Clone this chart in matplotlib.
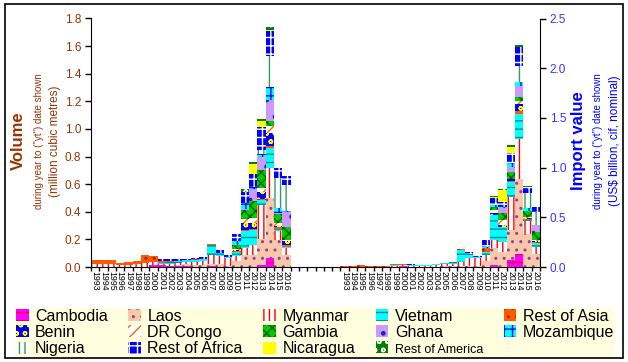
import matplotlib
matplotlib.use('Agg')
import matplotlib.pyplot as plt
from matplotlib.patches import Rectangle, Patch
from matplotlib.ticker import FormatStrFormatter, FixedLocator
import numpy as np

plt.rcParams['font.family'] = ['Liberation Sans', 'DejaVu Sans']
plt.rcParams['hatch.linewidth'] = 1.0

years = [str(y) for y in range(1993, 2017)]
series = ['Cambodia', 'Laos', 'Myanmar', 'Vietnam', 'Rest of Asia', 'Benin', 'DR Congo',
          'Gambia', 'Ghana', 'Mozambique', 'Nigeria', 'Rest of Africa', 'Nicaragua', 'Rest of America']

# volume, million m3 (1993..2016)
vol_cambodia = [0, 0, 0, 0, 0, 0, 0, 0.012, 0.012, 0.005, 0.005, 0.01, 0, 0, 0.005, 0, 0, 0, 0, 0, 0.015, 0.065, 0, 0]
vol_laos = [0, 0, 0, 0, 0, 0, 0, 0, 0, 0.005, 0.008, 0.01, 0.015, 0.015, 0.02, 0.02, 0.01, 0.045, 0.09, 0.087, 0.19, 0.435, 0.196, 0.085]
vol_myanmar = [0.025, 0.025, 0.025, 0.012, 0.015, 0.02, 0.03, 0.025, 0.01, 0.015, 0.015, 0.015, 0.02, 0.025, 0.06, 0.06, 0.055, 0.036, 0.05, 0.07, 0.245, 0.218, 0.065, 0.05]
vol_vietnam = [0, 0, 0, 0, 0, 0, 0, 0, 0.008, 0.012, 0.015, 0.015, 0.015, 0.015, 0.075, 0.02, 0.01, 0.025, 0.12, 0.11, 0.036, 0.146, 0.013, 0.012]
vol_rest_asia = [0.025, 0.025, 0.025, 0.02, 0.022, 0.025, 0.058, 0.045, 0.013, 0.005, 0, 0, 0.005, 0.005, 0.005, 0.005, 0, 0.008, 0.01, 0.01, 0.005, 0.01, 0.013, 0.01]
vol_benin = [0] * 17 + [0.008, 0.05, 0.04, 0.055, 0.097, 0.01, 0.03]
vol_drc = [0] * 17 + [0.005, 0.03, 0.04, 0.029, 0.048, 0.024, 0.01]
vol_gambia = [0] * 17 + [0.03, 0.06, 0.12, 0.13, 0.042, 0.06, 0.095]
vol_ghana = [0] * 17 + [0.005, 0.01, 0.09, 0.094, 0.152, 0.01, 0.11]
vol_mozambique = [0] * 17 + [0.025, 0.045, 0.01, 0.022, 0.09, 0.036, 0.005]
vol_nigeria = [0] * 20 + [0.029, 0.225, 0.218, 0.19]
vol_rest_africa = [0] * 8 + [0.012, 0.013, 0.012, 0.01, 0.01, 0.01, 0, 0.015, 0.012, 0.05, 0.08, 0.10, 0.167, 0.18, 0.072, 0.06]
vol_nicaragua = [0] * 19 + [0.07, 0.044, 0.012, 0, 0]
vol_rest_america = [0] * 18 + [0.02, 0.015, 0.008, 0.02, 0, 0]

# import value, US$ billion (1993..2016)
val_cambodia = [0] * 7 + [0.01, 0.005] + [0] * 9 + [0.02, 0.005, 0.07, 0.135, 0, 0]
val_laos = [0] * 11 + [0.005, 0.01, 0.01, 0.01, 0.01, 0.01, 0.065, 0.17, 0.15, 0.30, 0.755, 0.33, 0.134]
val_myanmar = [0, 0, 0.005, 0, 0, 0, 0.01, 0.01, 0.01, 0.01, 0.01, 0.015, 0.02, 0.02, 0.045, 0.077, 0.077, 0.06, 0.083, 0.10, 0.335, 0.40, 0.133, 0.07]
val_vietnam = [0, 0, 0, 0, 0, 0, 0.01, 0, 0.005, 0.01, 0.01, 0.01, 0.013, 0.02, 0.115, 0.04, 0.013, 0.03, 0.25, 0.144, 0.15, 0.25, 0.01, 0.034]
val_rest_asia = [0.008, 0.008, 0.02, 0.01, 0.008, 0.015, 0.01, 0.01, 0, 0, 0, 0, 0, 0.005, 0.008, 0, 0, 0.035, 0, 0, 0.01, 0.033, 0.01, 0.01]
val_benin = [0] * 18 + [0.017, 0.023, 0.025, 0.067, 0.01, 0.01]
val_drc = [0] * 18 + [0.033, 0.05, 0, 0.033, 0.014, 0.013]
val_gambia = [0] * 18 + [0.033, 0.067, 0.068, 0.034, 0.06, 0.084]
val_ghana = [0] * 19 + [0.05, 0.05, 0.117, 0, 0.067]
val_mozambique = [0] * 17 + [0.015, 0.017, 0.01, 0.034, 0.033, 0.024, 0]
val_nigeria = [0] * 21 + [0.168, 0.151, 0.134]
val_rest_africa = [0] * 7 + [0.005, 0.01, 0.005, 0, 0, 0, 0, 0, 0.027, 0.01, 0.065, 0.067, 0.057, 0.10, 0.184, 0.063, 0.047]
val_nicaragua = [0] * 18 + [0.01, 0.117, 0.068, 0, 0, 0]
val_rest_america = [0] * 18 + [0.014, 0.016, 0.016, 0.027, 0.01, 0]

volume = [vol_cambodia, vol_laos, vol_myanmar, vol_vietnam, vol_rest_asia, vol_benin, vol_drc,
          vol_gambia, vol_ghana, vol_mozambique, vol_nigeria, vol_rest_africa, vol_nicaragua, vol_rest_america]
value = [val_cambodia, val_laos, val_myanmar, val_vietnam, val_rest_asia, val_benin, val_drc,
         val_gambia, val_ghana, val_mozambique, val_nigeria, val_rest_africa, val_nicaragua, val_rest_america]

# (face, hatch colour, hatch)
styles = [
    ('#FF00FF', '#E8003C', '--'),
    ('#F8C8A8', '#9040A0', '..'),
    ('#FFFFFF', '#FF0000', '|||'),
    ('#00FFFF', '#008C8C', '--'),
    ('#FF5A00', '#B02000', '..'),
    ('#0000FF', '#FFFF00', 'oo'),
    ('#FFFFFF', '#FF6600', '///'),
    ('#00CC00', '#006000', 'xxx'),
    ('#CC99FF', '#2020C0', '.'),
    ('#00FFFF', '#0000FF', '++'),
    ('#FFFFFF', '#339966', '|||'),
    ('#0000FF', '#FFFFFF', '++'),
    ('#FFFF00', '#FFFF00', ''),
    ('#008000', '#FFFFFF', 'oo'),
]

W, H = 628, 362
fig = plt.figure(figsize=(W / 100, H / 100), dpi=100)
fig.patch.set_facecolor('white')
ax = fig.add_axes([91 / W, 1 - 267 / H, (540 - 91) / W, (267 - 18.5) / H])
ax2 = ax.twinx()

n = len(years)
x_vol = np.arange(n) + 0.5
x_val = np.arange(n) + 30.5

bot_v = np.zeros(n)
bot_i = np.zeros(n)
for s, vals_v, vals_i, (fc, hc, ht) in zip(series, volume, value, styles):
    ax.bar(x_vol, vals_v, width=1.0, bottom=bot_v, facecolor=fc, edgecolor=hc, hatch=ht, linewidth=0)
    ax2.bar(x_val, vals_i, width=1.0, bottom=bot_i, facecolor=fc, edgecolor=hc, hatch=ht, linewidth=0)
    bot_v += np.array(vals_v)
    bot_i += np.array(vals_i)

brown = '#993300'
blue = '#0000FF'

ax.set_xlim(0, 54)
ax.set_ylim(0, 1.8)
ax2.set_ylim(0, 2.5)
ax.set_yticks(np.arange(0, 1.81, 0.2))
ax2.set_yticks(np.arange(0, 2.51, 0.5))
ax.yaxis.set_major_formatter(FormatStrFormatter('%.1f'))
ax2.yaxis.set_major_formatter(FormatStrFormatter('%.1f'))
ax.tick_params(axis='y', labelcolor=brown, labelsize=8.5, length=4, width=1, direction='out', pad=3)
ax2.tick_params(axis='y', labelcolor='#3333FF', labelsize=8.5, length=4, width=1, direction='out', pad=3)

ax.set_xticks(np.concatenate([x_vol, x_val]))
ax.set_xticklabels(years + years, rotation=270, fontsize=6.3, va='top', ha='center')
ax.tick_params(axis='x', which='major', length=0, pad=3)
ax.xaxis.set_minor_locator(FixedLocator(np.arange(0, 55)))
ax.tick_params(axis='x', which='minor', length=3, width=1, direction='out')

for a in (ax, ax2):
    a.spines['top'].set_visible(False)
    a.patch.set_visible(False)
ax.spines['right'].set_visible(False)
ax2.spines['left'].set_visible(False)
ax2.spines['bottom'].set_visible(False)

cy = 1 - 141 / H
fig.text(18 / W, cy, 'Volume', rotation=90, ha='center', va='center', fontsize=12, fontweight='bold', color=brown)
fig.text(39 / W, cy, 'during year to ("yt") date shown', rotation=90, ha='center', va='center', fontsize=7, color=brown)
fig.text(55 / W, cy, '(million cubic metres)', rotation=90, ha='center', va='center', fontsize=8.5, color=brown)
fig.text(578 / W, cy, 'Import value', rotation=90, ha='center', va='center', fontsize=12, fontweight='bold', color=blue)
fig.text(598 / W, cy, 'during year to ("yt") date shown', rotation=90, ha='center', va='center', fontsize=7, color=blue)
fig.text(615 / W, cy, '(US$ billion, cif, nominal)', rotation=90, ha='center', va='center', fontsize=8.5, color=blue)

# legend, column-major order to get row-wise reading
handles = [Patch(facecolor=fc, edgecolor=hc, hatch=ht, linewidth=0) for fc, hc, ht in styles]
order = [0, 5, 10, 1, 6, 11, 2, 7, 12, 3, 8, 13, 4, 9]
leg = fig.legend([handles[i] for i in order], [series[i] for i in order], ncols=5,
                 loc='lower left', bbox_to_anchor=(15 / W, 5 / H, 600 / W, 55 / H), mode='expand',
                 frameon=True, facecolor='#FFFFE0', edgecolor='none', framealpha=1, fancybox=False,
                 fontsize=11.5, handlelength=0.8, handleheight=0.8, handletextpad=0.4,
                 labelspacing=0.08, borderaxespad=0, borderpad=0.05, columnspacing=1.0)
for t in leg.get_texts():
    if t.get_text() == 'Rest of America':
        t.set_fontsize(9)

border = Rectangle((5 / W, 4 / H), 618 / W, 354 / H, transform=fig.transFigure,
                   fill=False, edgecolor='black', linewidth=1.2, zorder=10)
fig.add_artist(border)

fig.savefig('out.png', dpi=100)
